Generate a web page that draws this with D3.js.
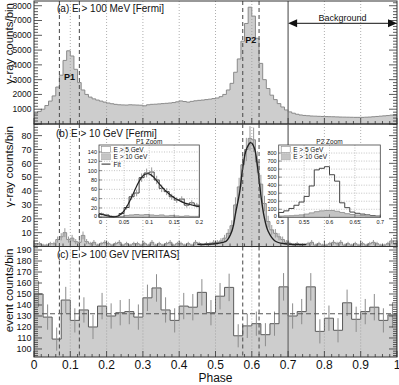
<!DOCTYPE html>
<html>
<head>
<meta charset="utf-8">
<script src="https://cdn.jsdelivr.net/npm/d3@7"></script>
<style>
  body { margin: 0; background: #fff; }
  text { font-family: "Liberation Sans", Arial, sans-serif; fill: #111; }
</style>
</head>
<body>
<svg id="chart"></svg>
<script>
// ---- data ----
const phaseLabels = ['0', '0.1', '0.2', '0.3', '0.4', '0.5', '0.6', '0.7', '0.8', '0.9', '1'];

// (a) E > 100 MeV, bins of 0.01
const fermi100MeV = [
  700, 850, 1000, 1250, 1550, 1900, 2500, 3300, 4300, 4950,
  4600, 3700, 2800, 2300, 2000, 1820, 1700, 1620, 1550, 1480,
  1420, 1370, 1330, 1300, 1290, 1280, 1300, 1290, 1280, 1270,
  1230, 1300, 1330, 1340, 1360, 1380, 1400, 1420, 1450, 1500,
  1560, 1520, 1480, 1530, 1570, 1600, 1620, 1650, 1680, 1720,
  1760, 1850, 2000, 2300, 2750, 3500, 4400, 5600, 6800, 7900,
  7300, 5800, 4100, 3000, 2400, 1950, 1650, 1380, 1150, 950,
  820, 730, 660, 610, 580, 560, 540, 530, 520, 510,
  500, 495, 490, 480, 470, 465, 460, 455, 450, 450,
  450, 460, 470, 490, 510, 530, 550, 570, 600, 640
];

// (b) E > 10 GeV, bins of 0.01
const fermi10GeV = [
  1, 2, 1, 1, 2, 2, 5, 7, 10, 5,
  6, 3.5, 3, 8, 3.5, 2, 3, 1, 2, 3,
  2, 1, 2, 3, 1, 2, 1, 2, 2, 1,
  2, 1, 3, 1, 2, 1, 2, 3, 1, 2,
  2, 1, 2, 1, 3, 2, 1, 2, 2, 3,
  3, 4, 6, 9.5, 15, 30, 43, 59, 70, 78,
  77, 61, 45, 31, 18, 12, 9.5, 7, 5, 3,
  2, 1, 2, 1, 1, 2, 3, 1, 2, 1,
  1, 2, 3, 2, 3, 1, 2, 1, 2, 1,
  2, 1, 2, 3, 2, 1, 1, 2, 4, 2
];
const fermi10GeVErr = [
  1, 1.4, 1, 1, 1.4, 1.4, 2.2, 2.6, 3.2, 2.2,
  2.4, 1.9, 1.7, 2.8, 1.9, 1.4, 1.7, 1, 1.4, 1.7,
  1.4, 1, 1.4, 1.7, 1, 1.4, 1, 1.4, 1.4, 1,
  1.4, 1, 1.7, 1, 1.4, 1, 1.4, 1.7, 1, 1.4,
  1.4, 1, 1.4, 1, 1.7, 1.4, 1, 1.4, 1.4, 1.7,
  1.7, 2, 2.4, 3.1, 3.9, 5.5, 6.6, 7.7, 8.4, 8.8,
  8.8, 7.8, 6.7, 5.6, 4.2, 3.5, 3.1, 2.6, 2.2, 1.7,
  1.4, 1, 1.4, 1, 1, 1.4, 1.7, 1, 1.4, 1,
  1, 1.4, 1.7, 1.4, 1.7, 1, 1.4, 1, 1.4, 1,
  1.4, 1, 1.4, 1.7, 1.4, 1, 1, 1.4, 2, 1.4
];
// fit through P2
const fitP2Phase = [0.45, 0.5, 0.52, 0.53, 0.545, 0.556, 0.567, 0.575, 0.585, 0.597, 0.607, 0.616, 0.625, 0.634, 0.645, 0.664, 0.69, 0.75];
const fitP2Value = [1.5, 2, 3, 4, 11, 25, 40, 57, 70, 75, 71, 57, 37, 21.5, 11, 4, 2, 1.5];

// (c) E > 100 GeV VERITAS, bins of 0.025
const veritas = [
  150, 129, 109, 144.5, 126, 135.5, 120, 139, 130, 133,
  134, 129, 146.5, 155.5, 135.5, 126, 139, 138, 151.5, 133,
  148, 156, 112, 121, 123, 113, 123, 156.5, 130, 134,
  156.5, 116, 128, 117, 142, 127, 134, 138, 126, 131
];
const veritasErr = [
  12, 11.5, 10.5, 12, 11, 11.5, 11, 12, 11.5, 11.5,
  11.5, 11.5, 12, 12.5, 11.5, 11, 12, 12, 12, 11.5,
  12, 12.5, 10.5, 11, 11, 10.5, 11, 12.5, 11.5, 11.5,
  12.5, 11, 11.5, 11, 12, 11.5, 11.5, 12, 11, 11.5
];
const veritasBackground = 132;

// P1 zoom inset, bins of 0.01 from 0 to 0.2
const p1Above5 = [7, 5, 2, 2, 8, 21, 44, 52, 85, 95, 97, 80, 62, 55, 44, 37, 39, 26, 31, 26];
const p1Above5Err = [3, 2.5, 1.5, 1.5, 3, 4.5, 6.5, 7, 9, 9.5, 10, 9, 8, 7.5, 6.5, 6, 6, 5, 5.5, 5];
const p1Above10 = [1, 1, 0, 1, 2, 4, 5, 6, 5, 6, 5, 4, 5, 3, 4, 3, 2, 3, 2, 2];
const fitP1Phase = [0, 0.01, 0.02, 0.03, 0.04, 0.05, 0.06, 0.07, 0.08, 0.09, 0.1, 0.11, 0.12, 0.13, 0.14, 0.15, 0.16, 0.17, 0.18, 0.19, 0.2];
const fitP1Value = [8, 5, 2.5, 1, 4, 14, 32, 55, 77, 91, 93, 85, 72, 60, 50, 42, 36, 31, 28, 25, 23];

// P2 zoom inset, bins of 0.01 from 0.5 to 0.7
const p2Above5 = [60, 80, 110, 150, 190, 260, 390, 590, 610, 630, 530, 450, 180, 120, 65, 50, 40, 30, 22, 15];
const p2Above10 = [15, 18, 20, 25, 30, 40, 55, 70, 80, 85, 85, 75, 60, 45, 35, 28, 22, 18, 15, 12];

// phase windows
const p1Window = [0.07, 0.125];
const p2Window = [0.575, 0.62];
const backgroundStart = 0.7;

// ---- chart ----
const W = 399, H = 385;
const svg = d3.select('#chart').attr('width', W).attr('height', H);
const x = d3.scaleLinear().domain([0, 1]).range([34, 397]);

const fillGray = '#cdcdcd';
const lineGray = '#8a8a8a';

const panels = [
  { key: 'a', top: 1, bottom: 124, domain: [0, 8320], major: 1000, minor: 200, labels: d3.range(1000, 8001, 1000),
    title: 'γ-ray counts/bin', titleX: 12.5, fs: 8.5 },
  { key: 'b', top: 124, bottom: 246.5, domain: [0, 88.4], major: 10, minor: 2, labels: d3.range(10, 81, 10),
    title: 'γ-ray counts/bin', titleX: 12.5, fs: 9 },
  { key: 'c', top: 246.5, bottom: 357, domain: [92.7, 193.2], major: 10, minor: 2, labels: d3.range(100, 191, 10),
    title: 'event counts/bin', titleX: 12.5, fs: 9 }
];
panels.forEach(p => {
  p.y = d3.scaleLinear().domain(p.domain).range([p.bottom, p.top]);
});

function stepPoints(vals, start, w) {
  const pts = [];
  vals.forEach((v, i) => {
    pts.push([start + i * w, v]);
    pts.push([start + (i + 1) * w, v]);
  });
  return pts;
}

function drawHist(g, vals, start, w, xs, ys, base, fill, stroke) {
  const pts = stepPoints(vals, start, w);
  if (fill !== 'none') {
    g.append('path')
      .attr('d', d3.area().x(d => xs(d[0])).y0(ys(base)).y1(d => ys(d[1]))(pts))
      .attr('fill', fill);
  }
  const outline = [[start, base], ...pts, [start + vals.length * w, base]];
  g.append('path')
    .attr('d', d3.line().x(d => xs(d[0])).y(d => ys(d[1]))(outline))
    .attr('fill', 'none')
    .attr('stroke', stroke)
    .attr('stroke-width', 1);
}

function drawErrors(g, vals, errs, start, w, xs, ys, color) {
  vals.forEach((v, i) => {
    const cx = xs(start + (i + 0.5) * w);
    g.append('line')
      .attr('x1', cx).attr('x2', cx)
      .attr('y1', ys(v - errs[i])).attr('y2', ys(v + errs[i]))
      .attr('stroke', color).attr('stroke-width', 1);
  });
}

const defs = svg.append('defs');

panels.forEach(p => {
  defs.append('clipPath').attr('id', 'clip-' + p.key)
    .append('rect')
    .attr('x', x(0)).attr('y', p.top)
    .attr('width', x(1) - x(0)).attr('height', p.bottom - p.top);

  const g = svg.append('g').attr('clip-path', `url(#clip-${p.key})`);
  const y = p.y;

  if (p.key === 'a') {
    drawHist(g, fermi100MeV, 0, 0.01, x, y, 0, fillGray, lineGray);
  } else if (p.key === 'b') {
    drawHist(g, fermi10GeV, 0, 0.01, x, y, 0, fillGray, lineGray);
    drawErrors(g, fermi10GeV, fermi10GeVErr, 0, 0.01, x, y, '#9a9a9a');
    g.append('path')
      .attr('d', d3.line().curve(d3.curveCatmullRom)
        .x(d => x(d)).y((d, i) => y(fitP2Value[i]))(fitP2Phase))
      .attr('fill', 'none').attr('stroke', '#222').attr('stroke-width', 1.4);
  } else {
    drawHist(g, veritas, 0, 0.025, x, y, p.domain[0], fillGray, '#5a5a5a');
    drawErrors(g, veritas, veritasErr, 0, 0.025, x, y, '#8c8c8c');
    g.append('line')
      .attr('x1', x(0)).attr('x2', x(1))
      .attr('y1', y(veritasBackground)).attr('y2', y(veritasBackground))
      .attr('stroke', '#555').attr('stroke-width', 1.1)
      .attr('stroke-dasharray', '5,3');
  }

  // dotted phase grid
  d3.range(1, 10).filter(i => i !== 7).forEach(i => {
    g.append('line')
      .attr('x1', x(i / 10)).attr('x2', x(i / 10))
      .attr('y1', p.top).attr('y2', p.bottom)
      .attr('stroke', '#9a9a9a').attr('stroke-width', 0.8)
      .attr('stroke-dasharray', '1,2');
  });

  // peak windows
  [...p1Window, ...p2Window].forEach(ph => {
    g.append('line')
      .attr('x1', x(ph)).attr('x2', x(ph))
      .attr('y1', p.top).attr('y2', p.bottom)
      .attr('stroke', '#555').attr('stroke-width', 1.1)
      .attr('stroke-dasharray', '4,3');
  });

  // background start
  g.append('line')
    .attr('x1', x(backgroundStart)).attr('x2', x(backgroundStart))
    .attr('y1', p.top).attr('y2', p.bottom)
    .attr('stroke', '#777').attr('stroke-width', 1.4);

  // frame
  svg.append('rect')
    .attr('x', x(0)).attr('y', p.top)
    .attr('width', x(1) - x(0)).attr('height', p.bottom - p.top)
    .attr('fill', 'none').attr('stroke', '#333').attr('stroke-width', 1);

  // y ticks, inside on both sides
  const ax = svg.append('g').attr('stroke', '#333').attr('stroke-width', 0.8);
  const minorTicks = d3.range(Math.ceil(p.domain[0] / p.minor) * p.minor, p.domain[1], p.minor);
  minorTicks.forEach(v => {
    const isMajor = Math.abs(v / p.major - Math.round(v / p.major)) < 1e-6;
    const len = isMajor ? 8 : 4;
    ax.append('line').attr('x1', x(0)).attr('x2', x(0) + len).attr('y1', y(v)).attr('y2', y(v));
    ax.append('line').attr('x1', x(1)).attr('x2', x(1) - len).attr('y1', y(v)).attr('y2', y(v));
  });
  // x ticks on bottom edge
  d3.range(0, 51).forEach(i => {
    const len = i % 5 === 0 ? 6 : 3;
    ax.append('line')
      .attr('x1', x(i / 50)).attr('x2', x(i / 50))
      .attr('y1', p.bottom).attr('y2', p.bottom - len);
  });

  // y labels
  p.labels.forEach(v => {
    svg.append('text')
      .attr('x', 31.5).attr('y', y(v))
      .attr('dy', '0.35em')
      .attr('text-anchor', 'end')
      .style('font-size', p.fs + 'px')
      .text(v);
  });

  // y title
  svg.append('text')
    .attr('transform', `translate(${p.titleX},${p.top + 2}) rotate(-90)`)
    .attr('text-anchor', 'end')
    .style('font-size', '11.5px')
    .text(p.title);
});

// panel captions
svg.append('text').attr('x', 57).attr('y', 12).style('font-size', '10px').text('(a)  E > 100 MeV [Fermi]');
svg.append('text').attr('x', 56).attr('y', 136.5).style('font-size', '10px').text('(b)  E > 10 GeV [Fermi]');
svg.append('text').attr('x', 57).attr('y', 258).style('font-size', '10px').text('(c)  E > 100 GeV [VERITAS]');

// peak labels
svg.append('text').attr('x', x(0.098)).attr('y', 80).attr('text-anchor', 'middle')
  .style('font-size', '9px').style('font-weight', 'bold').text('P1');
svg.append('text').attr('x', x(0.597)).attr('y', 42.5).attr('text-anchor', 'middle')
  .style('font-size', '9px').style('font-weight', 'bold').text('P2');

// background arrow
const arrowY = 23.3;
svg.append('line')
  .attr('x1', x(backgroundStart) + 6).attr('x2', x(1) - 6)
  .attr('y1', arrowY).attr('y2', arrowY)
  .attr('stroke', '#111').attr('stroke-width', 1);
svg.append('path')
  .attr('d', `M${x(backgroundStart)},${arrowY} l9,-4 l0,8 z`)
  .attr('fill', '#111');
svg.append('path')
  .attr('d', `M${x(1)},${arrowY} l-9,-4 l0,8 z`)
  .attr('fill', '#111');
svg.append('text').attr('x', x(0.85)).attr('y', 20.5).attr('text-anchor', 'middle')
  .style('font-size', '9px').text('Background');

// x axis labels (bottom panel)
phaseLabels.forEach((t, i) => {
  svg.append('text')
    .attr('x', x(i / 10)).attr('y', 368.5)
    .attr('text-anchor', 'middle')
    .style('font-size', '12px')
    .text(t);
});
svg.append('text').attr('x', x(0.5)).attr('y', 382).attr('text-anchor', 'middle')
  .style('font-size', '12px').text('Phase');

// ---- insets ----
function drawInset(o) {
  const ix = d3.scaleLinear().domain(o.xDomain).range([o.left, o.right]);
  const iy = d3.scaleLinear().domain(o.yDomain).range([o.bottom, o.top]);
  const g = svg.append('g');
  g.append('rect')
    .attr('x', o.left).attr('y', o.top)
    .attr('width', o.right - o.left).attr('height', o.bottom - o.top)
    .attr('fill', '#fff');

  // dotted grid
  o.xTicks.slice(1, -1).forEach(v => {
    g.append('line').attr('x1', ix(v)).attr('x2', ix(v)).attr('y1', o.top).attr('y2', o.bottom)
      .attr('stroke', '#aaa').attr('stroke-width', 0.7).attr('stroke-dasharray', '1,1.5');
  });
  o.yTicks.filter(v => v > 0).forEach(v => {
    g.append('line').attr('x1', o.left).attr('x2', o.right).attr('y1', iy(v)).attr('y2', iy(v))
      .attr('stroke', '#aaa').attr('stroke-width', 0.7).attr('stroke-dasharray', '1,1.5');
  });

  const cg = g.append('g');
  drawHist(cg, o.above5, o.xDomain[0], 0.01, ix, iy, 0, 'none', '#444');
  if (o.above5Err) drawErrors(cg, o.above5, o.above5Err, o.xDomain[0], 0.01, ix, iy, '#999');
  drawHist(cg, o.above10, o.xDomain[0], 0.01, ix, iy, 0, '#c4c4c4', '#999');
  if (o.fitPhase) {
    cg.append('path')
      .attr('d', d3.line().curve(d3.curveCatmullRom)
        .x(d => ix(d)).y((d, i) => iy(o.fitValue[i]))(o.fitPhase))
      .attr('fill', 'none').attr('stroke', '#222').attr('stroke-width', 1.2);
  }

  g.append('rect')
    .attr('x', o.left).attr('y', o.top)
    .attr('width', o.right - o.left).attr('height', o.bottom - o.top)
    .attr('fill', 'none').attr('stroke', '#444').attr('stroke-width', 0.8);

  // ticks + labels
  o.yTicks.forEach(v => {
    g.append('line').attr('x1', o.left).attr('x2', o.left + 3).attr('y1', iy(v)).attr('y2', iy(v))
      .attr('stroke', '#444').attr('stroke-width', 0.6);
    g.append('text').attr('x', o.left - 2).attr('y', iy(v)).attr('dy', v === 0 ? '0.1em' : '0.35em')
      .attr('text-anchor', 'end').style('font-size', '5.5px').text(v);
  });
  o.xTicks.forEach((v, i) => {
    g.append('line').attr('x1', ix(v)).attr('x2', ix(v)).attr('y1', o.bottom).attr('y2', o.bottom - 3)
      .attr('stroke', '#444').attr('stroke-width', 0.6);
    g.append('text').attr('x', ix(v) + (i === 0 ? 1.5 : 0)).attr('y', o.bottom + 6.5)
      .attr('text-anchor', 'middle').style('font-size', '5.5px').text(o.xLabels[i]);
  });

  g.append('text').attr('x', (o.left + o.right) / 2).attr('y', o.top - 1.5)
    .attr('text-anchor', 'middle').style('font-size', '6.5px').text(o.title);

  // legend
  const lx = o.left + 2.5;
  const legend = [
    { label: 'E > 5 GeV', type: 'open' },
    { label: 'E > 10 GeV', type: 'filled' }
  ];
  if (o.fitPhase) legend.push({ label: 'Fit', type: 'line' });
  legend.forEach((e, i) => {
    const ly = o.top + 1.5 + i * 7.3;
    if (e.type === 'line') {
      g.append('line').attr('x1', lx).attr('x2', lx + 9).attr('y1', ly + 3).attr('y2', ly + 3)
        .attr('stroke', '#222').attr('stroke-width', 1);
    } else {
      g.append('rect').attr('x', lx).attr('y', ly).attr('width', 9).attr('height', 6)
        .attr('fill', e.type === 'open' ? '#fff' : '#c4c4c4')
        .attr('stroke', e.type === 'open' ? '#888' : '#aaa').attr('stroke-width', 0.6);
    }
    g.append('text').attr('x', lx + 12).attr('y', ly + 5.5)
      .style('font-size', '6.5px').text(e.label);
  });
}

drawInset({
  title: 'P1 Zoom', left: 99, right: 199.3, top: 145, bottom: 217.3,
  xDomain: [0, 0.2], yDomain: [0, 155],
  xTicks: [0, 0.05, 0.1, 0.15, 0.2], xLabels: ['0', '0.05', '0.1', '0.15', '0.2'],
  yTicks: [0, 20, 40, 60, 80, 100, 120, 140],
  above5: p1Above5, above5Err: p1Above5Err, above10: p1Above10,
  fitPhase: fitP1Phase, fitValue: fitP1Value
});
drawInset({
  title: 'P2 Zoom', left: 278.7, right: 380.3, top: 145, bottom: 217.3,
  xDomain: [0.5, 0.7], yDomain: [0, 900],
  xTicks: [0.5, 0.55, 0.6, 0.65, 0.7], xLabels: ['0.5', '0.55', '0.6', '0.65', '0.7'],
  yTicks: [0, 100, 200, 300, 400, 500, 600, 700, 800],
  above5: p2Above5, above10: p2Above10
});
</script>
</body>
</html>
